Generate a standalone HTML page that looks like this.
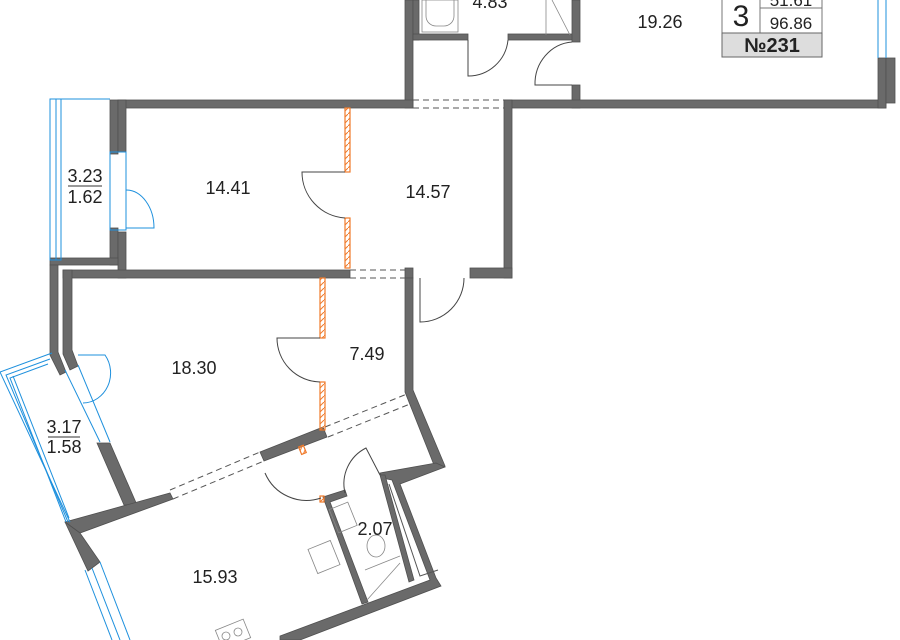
<!DOCTYPE html>
<html><head><meta charset="utf-8"><style>
html,body{margin:0;padding:0;background:#fff;width:900px;height:640px;overflow:hidden}
text{font-family:"Liberation Sans",sans-serif;fill:#222}
</style></head><body>
<svg width="900" height="640" viewBox="0 0 900 640" xmlns="http://www.w3.org/2000/svg">
<defs>
<pattern id="h" width="6" height="6" patternUnits="userSpaceOnUse"><path d="M0 6 L6 0" stroke="#f07a2a" stroke-width="1"/></pattern>
</defs>
<g fill="#6a6a6a" stroke="#505050" stroke-width="0.8">
<rect x="405" y="0" width="8" height="108"/>
<rect x="413" y="0" width="6" height="40"/>
<rect x="413" y="34" width="55" height="6"/>
<rect x="508" y="34" width="66" height="6"/>
<rect x="572" y="0" width="8" height="42"/>
<rect x="572" y="85" width="8" height="23"/>
<rect x="118" y="100" width="295" height="8"/>
<rect x="504" y="100" width="382" height="8"/>
<rect x="878" y="58" width="8" height="50"/>
<rect x="886" y="58" width="9" height="45"/>
<rect x="504" y="100" width="8" height="178"/>
<rect x="470" y="268" width="42" height="10"/>
<rect x="110" y="100" width="8" height="54"/>
<rect x="118" y="100" width="8" height="52"/>
<rect x="110" y="228" width="8" height="37"/>
<rect x="118" y="232" width="8" height="46"/>
<rect x="50" y="258" width="68" height="7"/>
<rect x="63" y="270" width="287" height="8"/>
<rect x="405" y="268" width="8" height="10"/>
<polygon points="405,278 413,278 413,390 445,466 436,470 405,392"/>
<polygon points="436,463 445,467 400,484 436,578 441,586 300,640 280,640 280,636 430,580 392,480 382,478 380,473"/>
<!-- left exterior -->
<polygon points="50,265 58,265 58,352 66,372 60,375 50,355"/>
<polygon points="63,270 72,270 72,350 78,366 70,370 63,354"/>
<polygon points="97,443 110,443 137,505 124,505"/>
<polygon points="65,522 170,493 173,499 80,533"/>
<polygon points="65,522 80,533 100,562 88,571"/>
<polygon points="260,452 323,427 327,437 264,461"/>
<polygon points="323,497 345,490 347,496 330,502 368,602 362,604"/>
<polygon points="380,475 385,475 414,580 409,582"/>
</g>
<polyline points="389,484 420,576 438,570" fill="none" stroke="#555" stroke-width="1"/>
<g stroke="#555" stroke-width="1" stroke-dasharray="6,4" fill="none">
<line x1="413" y1="100" x2="504" y2="100"/><line x1="413" y1="108" x2="504" y2="108"/>
<line x1="350" y1="270" x2="405" y2="270"/><line x1="350" y1="278" x2="405" y2="278"/>
<line x1="170" y1="490" x2="260" y2="452"/><line x1="173" y1="499" x2="264" y2="461"/>
<line x1="325" y1="427" x2="407" y2="394"/><line x1="328" y1="437" x2="410" y2="404"/>
</g>
<g fill="url(#h)" stroke="#f07a2a" stroke-width="1.2">
<rect x="345" y="108" width="5" height="64"/><rect x="345" y="218" width="5" height="50"/>
<rect x="320" y="278" width="5" height="60"/><rect x="320" y="382" width="5" height="48"/>
<rect x="300" y="446" width="5" height="8" transform="rotate(-22 302 450)"/>
<rect x="320" y="496" width="4" height="6"/>
</g>
<g fill="none" stroke="#444" stroke-width="1">
<path d="M345 172 H302 A46 46 0 0 0 345 218"/>
<path d="M320 338 H277 A44 44 0 0 0 320 382"/>
<path d="M420 278 V322 A44 44 0 0 0 464 278"/>
<path d="M468 40 V76 A40 40 0 0 0 508 40"/>
<path d="M572 42 A40 42 0 0 0 535 85 H572"/>
<path d="M265 473 A45 45 0 0 0 321 498"/>
<path d="M345 493 A40 40 0 0 1 366 448 L380 475"/>
</g>
<g fill="none" stroke="#888" stroke-width="0.8">
<rect x="422" y="0" width="36" height="32"/><path d="M426 0 V16 A10 10 0 0 0 436 26 H444 A10 10 0 0 0 454 16 V0"/>
<line x1="546" y1="0" x2="546" y2="35"/><line x1="552" y1="0" x2="570" y2="35"/>
<rect x="333" y="505" width="20" height="25" transform="rotate(-22 343 517)"/>
<rect x="312" y="544" width="24" height="26" transform="rotate(-22 324 557)"/>
<ellipse cx="376" cy="546" rx="9" ry="11"/>
<line x1="365" y1="570" x2="400" y2="556"/><line x1="367" y1="600" x2="400" y2="563"/>
<rect x="218" y="624" width="30" height="20" transform="rotate(-22 233 634)"/>
<circle cx="226" cy="636" r="4"/><circle cx="238" cy="632" r="4"/>
</g>
<g fill="none" stroke="#1e90dd" stroke-width="1">
<rect x="50" y="99" width="11" height="161"/><line x1="56" y1="99" x2="56" y2="260"/>
<line x1="50" y1="99" x2="110" y2="99"/>
<rect x="110" y="152" width="16" height="78"/>
<path d="M126 190 A28 38 0 0 1 154 228 H126"/>
<!-- balcony 3.17 -->
<polyline points="70,522 0,372 52,353"/>
<polyline points="68,522 6,375 50,359"/>
<polyline points="66,522 10,378 48,364"/>
<line x1="13" y1="376" x2="69" y2="518"/>
<line x1="65" y1="370" x2="100" y2="442"/>
<line x1="78" y1="365" x2="110" y2="442"/>
<path d="M78 355 H105 A28 30 0 0 1 83 403"/>
<line x1="85" y1="570" x2="112" y2="640"/><line x1="92" y1="568" x2="120" y2="640"/><line x1="100" y1="562" x2="130" y2="640"/>
<line x1="878" y1="0" x2="878" y2="58"/><line x1="886" y1="0" x2="886" y2="58"/>
</g>
<g font-size="18" text-anchor="middle">
<text x="228" y="194">14.41</text>
<text x="428" y="198">14.57</text>
<text x="85" y="182">3.23</text><text x="85" y="203">1.62</text>
<text x="194" y="374">18.30</text>
<text x="367" y="360">7.49</text>
<text x="64" y="433">3.17</text><text x="64" y="453">1.58</text>
<text x="215" y="583">15.93</text>
<text x="375" y="535">2.07</text>
<text x="660" y="28">19.26</text>
<text x="490" y="8">4.83</text>
</g>
<line x1="68" y1="186" x2="102" y2="186" stroke="#333"/>
<line x1="48" y1="437" x2="80" y2="437" stroke="#333"/>
<rect x="722" y="-2" width="100" height="59" fill="#fff" stroke="#777"/>
<line x1="760" y1="-2" x2="760" y2="33" stroke="#777"/>
<line x1="760" y1="8" x2="822" y2="8" stroke="#777"/>
<rect x="722" y="33" width="100" height="24" fill="#ddd" stroke="#666"/>
<text x="741" y="26" font-size="30" text-anchor="middle">3</text>
<text x="791" y="6" font-size="17" text-anchor="middle">51.61</text>
<text x="791" y="29" font-size="17" text-anchor="middle">96.86</text>
<text x="772" y="52" font-size="20" font-weight="bold" text-anchor="middle">№231</text>
</svg>
</body></html>
